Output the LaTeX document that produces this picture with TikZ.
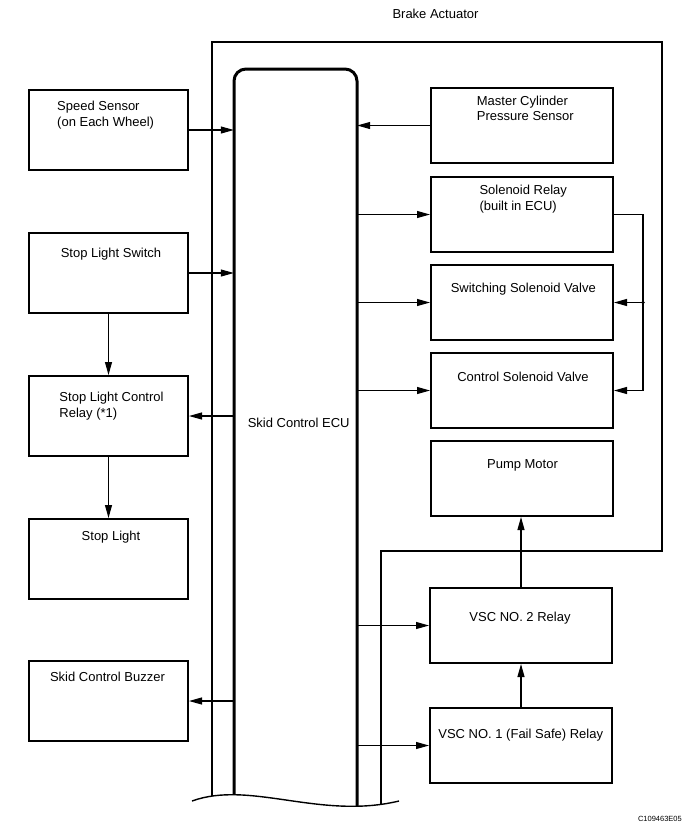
\documentclass[tikz,border=0pt]{standalone}
\usepackage{fontspec}
\setmainfont{Liberation Sans}
\usetikzlibrary{arrows.meta}
\begin{document}
\begin{tikzpicture}[x=1pt,y=-1pt,
  lbox/.style={draw, line width=2pt, minimum width=159pt, minimum height=80pt, inner sep=0pt},
  rbox/.style={draw, line width=2pt, minimum width=182pt, minimum height=75pt, inner sep=0pt},
  conn/.style={line width=1.1pt},
  arr/.style={conn, -{Triangle[length=13pt,width=7pt]}},
  lbl/.style={font=\fontsize{13}{16}\selectfont, inner sep=0pt},
  thinframe/.style={line width=2pt},
  eculine/.style={line width=3pt}]
\useasboundingbox (0,0) rectangle (690,831);

% Brake actuator outline
\draw[thinframe] (212,796) -- (212,42) -- (662,42) -- (662,551) -- (381,551) -- (381,804.4);
\node[lbl, anchor=base] (ba) at (435.5,18) {Brake Actuator};

% Skid control ECU
\node[inner sep=0pt, minimum width=123pt, minimum height=708pt] (ecu) at (295.5,423) {};
\draw[eculine, rounded corners=12pt] (234,794.7) -- (234,69) -- (357,69) -- (357,806.4);
\node[lbl, anchor=base] (ecu-t) at (298.7,427.7) {Skid Control ECU};
% cut line
\draw[line width=1.4pt] (192,801) .. controls (250,780) and (320,820) .. (399,801);

% left column
\node[lbox] (ss) at (108.5,130) {};
\node[lbl, anchor=base west] (ss-t1) at (57,110.5) {Speed Sensor};
\node[lbl, anchor=base west] (ss-t2) at (57,126.5) {(on Each Wheel)};

\node[lbox] (sls) at (108.5,273) {};
\node[lbl, anchor=base] (sls-t) at (111,257) {Stop Light Switch};

\node[lbox] (slcr) at (108.5,416) {};
\node[lbl, anchor=base west] (slcr-t1) at (59.3,401) {Stop Light Control};
\node[lbl, anchor=base west] (slcr-t2) at (59.3,417.5) {Relay (*1)};

\node[lbox] (sl) at (108.5,559) {};
\node[lbl, anchor=base] (sl-t) at (111,540) {Stop Light};

\node[lbox] (scb) at (108.5,701) {};
\node[lbl, anchor=base] (scb-t) at (107.5,681.7) {Skid Control Buzzer};

% right column
\node[rbox] (mcps) at (522,125.5) {};
\node[lbl, anchor=base west] (mcps-t1) at (476.7,105) {Master Cylinder};
\node[lbl, anchor=base west] (mcps-t2) at (476.7,120.7) {Pressure Sensor};

\node[rbox] (sr) at (522,214.5) {};
\node[lbl, anchor=base west] (sr-t1) at (479.3,194) {Solenoid Relay};
\node[lbl, anchor=base west] (sr-t2) at (479.3,210) {(built in ECU)};

\node[rbox] (ssv) at (522,302.5) {};
\node[lbl, anchor=base] (ssv-t) at (523.3,292) {Switching Solenoid Valve};

\node[rbox] (csv) at (522,390.5) {};
\node[lbl, anchor=base] (csv-t) at (523,381.7) {Control Solenoid Valve};

\node[rbox] (pm) at (522,478.5) {};
\node[lbl, anchor=base] (pm-t) at (522.5,468.3) {Pump Motor};

\node[rbox] (vsc2) at (521,625.5) {};
\node[lbl, anchor=base] (vsc2-t) at (520,621.7) {VSC NO. 2 Relay};

\node[rbox] (vsc1) at (521,745.5) {};
\node[lbl, anchor=base] (vsc1-t) at (520.7,738.3) {VSC NO. 1 (Fail Safe) Relay};

\node[font=\fontsize{7.5}{9}\selectfont, inner sep=0pt, anchor=base east] (code) at (682,821) {C109463E05};

% connectors, left side
\draw[arr] (ss.east) -- (ss.east -| ecu.west);
\draw[arr] (sls.east) -- (sls.east -| ecu.west);
\draw[arr] (slcr.east -| ecu.west) -- (slcr.east);
\draw[arr] (scb.east -| ecu.west) -- (scb.east);
\draw[arr] (sls.south) -- (slcr.north);
\draw[arr] (slcr.south) -- (sl.north);

% connectors, right side
\draw[arr] (mcps.west) -- (mcps.west -| ecu.east);
\draw[arr] (sr.west -| ecu.east) -- (sr.west);
\draw[arr] (ssv.west -| ecu.east) -- (ssv.west);
\draw[arr] (csv.west -| ecu.east) -- (csv.west);
\draw[arr] (vsc2.west -| ecu.east) -- (vsc2.west);
\draw[arr] (vsc1.west -| ecu.east) -- (vsc1.west);
\draw[arr] (vsc1.north) -- (vsc2.south);
\draw[arr] (vsc2.north) -- (vsc2.north |- pm.south);

% solenoid relay bus
\coordinate (bt) at (643,214.5);
\coordinate (bd) at (643,302.5);
\coordinate (bb) at (643,390.5);
\draw[arr] (sr.east) -- (bt) -- (bb) -- (csv.east);
\draw[arr] (bd) -- (ssv.east);
\fill (bd) circle (1.8pt);
\end{tikzpicture}
\end{document}
